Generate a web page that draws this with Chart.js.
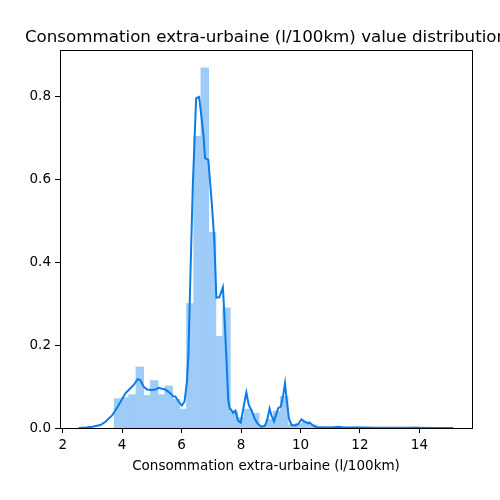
<!DOCTYPE html>
<html lang="fr">
<head>
    <meta charset="UTF-8">
    <title>Consommation extra-urbaine (l/100km) value distribution</title>
    <script src="https://cdn.jsdelivr.net/npm/chart.js"></script>
    <style>
        html, body { margin: 0; padding: 0; background: #fff; }
        #wrap { width: 500px; height: 500px; position: relative; }
    </style>
</head>
<body>
    <div id="wrap"><canvas id="myChart"></canvas></div>

    <script>
        // histogram bins (centres) and their densities
        const binCenters = [3.865, 4.108, 4.351, 4.594, 4.837, 5.080, 5.323, 5.566, 5.809, 6.052,
                            6.295, 6.538, 6.781, 7.024, 7.267, 7.510, 7.753, 7.996, 8.239, 8.482,
                            8.725, 8.968, 9.211, 9.454, 9.697, 9.940, 10.183, 10.426, 10.669, 10.912,
                            11.155, 11.398, 11.641, 11.884, 12.127, 12.370, 12.613, 12.856, 13.099, 13.342,
                            13.585, 13.828];
        const binDensity = [0.070, 0.073, 0.080, 0.147, 0.078, 0.114, 0.080, 0.101, 0.069, 0.045,
                            0.300, 0.704, 0.870, 0.472, 0.221, 0.290, 0.039, 0.025, 0.045, 0.035,
                            0.005, 0.020, 0.040, 0.076, 0.007, 0.010, 0.015, 0.007, 0.003, 0.002,
                            0.003, 0, 0, 0.002, 0, 0, 0, 0, 0, 0,
                            0, 0.002];

        // kernel density estimate curve
        const kdeX = [2.54, 2.8, 3.0, 3.27, 3.44, 3.67, 3.89, 4.11, 4.28, 4.39,
                      4.52, 4.61, 4.72, 4.84, 5.0, 5.12, 5.23, 5.34, 5.45, 5.62,
                      5.73, 5.79, 5.9, 6.01, 6.1, 6.18, 6.23, 6.29, 6.38, 6.49,
                      6.59, 6.68, 6.74, 6.79, 6.9, 7.02, 7.1, 7.17, 7.27, 7.39,
                      7.45, 7.52, 7.57, 7.62, 7.66, 7.73, 7.81, 7.9, 7.99, 8.09,
                      8.18, 8.26, 8.37, 8.46, 8.55, 8.68, 8.8, 8.88, 8.96, 9.02,
                      9.11, 9.25, 9.34, 9.42, 9.48, 9.53, 9.61, 9.7, 9.81, 9.92,
                      10.03, 10.15, 10.26, 10.31, 10.42, 10.54, 10.9, 11.1, 11.26, 11.45,
                      11.9, 12.1, 12.5, 13.0, 13.9, 14.5, 15.14];
        const kdeY = [0, 0.001, 0.003, 0.007, 0.015, 0.031, 0.056, 0.084, 0.096, 0.104,
                      0.118, 0.116, 0.100, 0.093, 0.092, 0.093, 0.097, 0.095, 0.093, 0.084,
                      0.076, 0.076, 0.064, 0.054, 0.064, 0.112, 0.176, 0.35, 0.59, 0.797,
                      0.80, 0.745, 0.704, 0.652, 0.648, 0.54, 0.454, 0.315, 0.316, 0.340,
                      0.26, 0.148, 0.068, 0.047, 0.045, 0.037, 0.042, 0.018, 0.013, 0.052,
                      0.086, 0.056, 0.040, 0.023, 0.011, 0.003, 0.005, 0.019, 0.047, 0.031,
                      0.016, 0.048, 0.052, 0.08, 0.108, 0.072, 0.023, 0.007, 0.006, 0.009,
                      0.021, 0.015, 0.011, 0.013, 0.006, 0.002, 0.001, 0.001, 0.003, 0.001,
                      0.001, 0.0015, 0.0005, 0.0005, 0.0005, 0.0002, 0];

        const xTicks = [2, 4, 6, 8, 10, 12, 14];
        const yTicks = [0, 0.2, 0.4, 0.6, 0.8];

        const titleText = 'Consommation extra-urbaine (l/100km) value distribution';
        const xLabel = 'Consommation extra-urbaine (l/100km)';

        const lineColor = 'rgb(11, 123, 232)';
        const barColor = 'rgb(158, 203, 247)';   // line colour at 40% on white, kept opaque so bars don't seam
        const font = 'DejaVu Sans';

        // title centred over the axes, plus the black frame round them
        const framePlugin = {
            id: 'frame',
            afterDraw(chart) {
                const a = chart.chartArea;
                const ctx = chart.ctx;
                ctx.save();
                ctx.strokeStyle = '#000';
                ctx.lineWidth = 1;
                ctx.strokeRect(Math.round(a.left) + 0.5, Math.round(a.top) + 0.5,
                               Math.round(a.right - a.left), Math.round(a.bottom - a.top));
                ctx.fillStyle = '#000';
                ctx.font = '16.7px "' + font + '"';
                ctx.textAlign = 'center';
                ctx.textBaseline = 'alphabetic';
                ctx.fillText(titleText, (a.left + a.right) / 2, a.top - 8);
                ctx.restore();
            }
        };

        const ctx = document.getElementById('myChart').getContext('2d');
        new Chart(ctx, {
            type: 'bar',
            data: {
                datasets: [{
                    type: 'line',
                    data: kdeX.map((x, i) => ({ x: x, y: kdeY[i] })),
                    borderColor: lineColor,
                    borderWidth: 2,
                    pointRadius: 0,
                    tension: 0,
                    fill: false,
                    order: 0
                }, {
                    type: 'bar',
                    data: binCenters.map((x, i) => ({ x: x, y: binDensity[i] })),
                    backgroundColor: barColor,
                    borderWidth: 0,
                    inflateAmount: 0.6,
                    barPercentage: 1,
                    categoryPercentage: 1,
                    order: 1
                }]
            },
            options: {
                responsive: true,
                maintainAspectRatio: false,
                animation: false,
                layout: { padding: { top: 50, right: 28, left: 0, bottom: 0 } },
                plugins: {
                    legend: { display: false },
                    tooltip: { enabled: false }
                },
                scales: {
                    x: {
                        type: 'linear',
                        min: 1.91,
                        max: 15.77,
                        offset: false,
                        afterBuildTicks: s => { s.ticks = xTicks.map(v => ({ value: v })); },
                        afterFit: s => { s.height = 72; },
                        grid: { display: true, offset: false, drawOnChartArea: false, drawTicks: true, tickLength: 5, color: '#000' },
                        border: { display: false },
                        ticks: {
                            color: '#000',
                            padding: 4,
                            maxRotation: 0,
                            font: { family: font, size: 13.5 },
                            callback: v => String(v)
                        },
                        title: {
                            display: true,
                            text: xLabel,
                            color: '#000',
                            font: { family: font, size: 13.5 },
                            padding: { top: 0, bottom: 25 }
                        }
                    },
                    y: {
                        min: 0,
                        max: 0.9135,
                        afterBuildTicks: s => { s.ticks = yTicks.map(v => ({ value: v })); },
                        afterFit: s => { s.width = 60; },
                        grid: { display: true, drawOnChartArea: false, drawTicks: true, tickLength: 5, color: '#000' },
                        border: { display: false },
                        ticks: {
                            color: '#000',
                            padding: 4,
                            font: { family: font, size: 13.5 },
                            callback: v => v.toFixed(1)
                        }
                    }
                }
            },
            plugins: [framePlugin]
        });
    </script>
</body>
</html>
